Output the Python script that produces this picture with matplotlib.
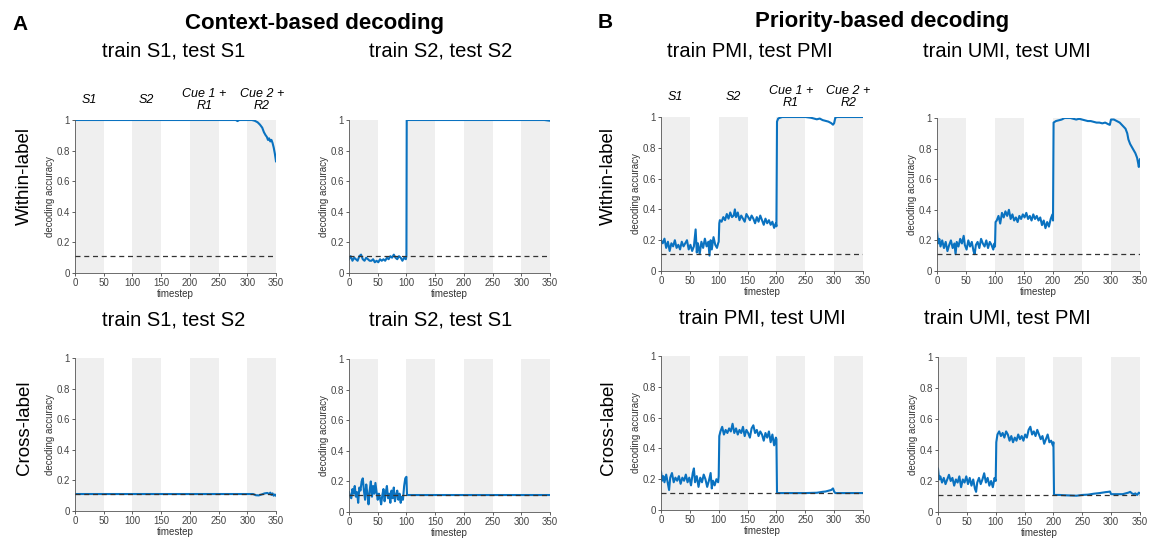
import matplotlib
matplotlib.use('Agg')
import matplotlib.pyplot as plt

plt.rcParams['font.family'] = ['Liberation Sans', 'DejaVu Sans']

# chance level (1/9)
chance = 0.111

# epoch bands and labels
bands = [(0, 50), (100, 150), (200, 250), (300, 350)]
epoch_x = [25, 125, 225, 325]
epoch_labels = ['S1', 'S2', 'Cue 1 +\nR1', 'Cue 2 +\nR2']

# --- A: context-based decoding ---
t_s1s1 = [0, 280, 283, 286, 308, 313, 318, 322, 326, 329, 332, 334, 336, 338, 340, 342, 344, 346, 348, 350]
acc_s1s1 = [1, 1, 0.993, 1, 1, 0.995, 0.985, 0.97, 0.95, 0.92, 0.90, 0.89, 0.87, 0.88, 0.86, 0.87, 0.85, 0.82, 0.78, 0.73]

t_s2s2 = [0, 3, 6, 9, 12, 15, 18, 21, 24, 27, 30, 33, 36, 39, 42, 45, 48, 51, 54, 57,
          60, 63, 66, 69, 72, 75, 78, 81, 84, 87, 90, 93, 96, 99, 100, 100.5, 340, 350]
acc_s2s2 = [0.09, 0.11, 0.08, 0.10, 0.09, 0.08, 0.11, 0.12, 0.09, 0.08, 0.10, 0.09, 0.08, 0.08, 0.09, 0.07, 0.08, 0.07, 0.09, 0.08,
            0.09, 0.08, 0.10, 0.09, 0.11, 0.10, 0.12, 0.10, 0.09, 0.11, 0.10, 0.08, 0.10, 0.09, 0.11, 1.0, 1.0, 0.995]

t_s1s2 = [0, 310, 315, 320, 325, 330, 335, 338, 340, 342, 344, 346, 348, 350]
acc_s1s2 = [0.111, 0.111, 0.103, 0.102, 0.108, 0.115, 0.118, 0.11, 0.12, 0.105, 0.115, 0.10, 0.108, 0.10]

t_s2s1 = [0, 2, 4, 6, 8, 10, 12, 14, 16, 18, 20, 22, 24, 26, 28, 30, 32, 34, 36, 38,
          40, 42, 44, 46, 48, 50, 52, 54, 56, 58, 60, 62, 64, 66, 68, 70, 72, 74, 76, 78,
          80, 82, 84, 86, 88, 90, 92, 94, 96, 98, 100, 101, 350]
acc_s2s1 = [0.13, 0.10, 0.09, 0.15, 0.12, 0.17, 0.10, 0.13, 0.06, 0.16, 0.14, 0.20, 0.22, 0.14, 0.08, 0.18, 0.12, 0.05, 0.14, 0.20,
            0.10, 0.17, 0.12, 0.19, 0.13, 0.08, 0.12, 0.09, 0.05, 0.11, 0.15, 0.07, 0.13, 0.17, 0.09, 0.12, 0.06, 0.14, 0.09, 0.16,
            0.07, 0.11, 0.14, 0.08, 0.12, 0.06, 0.10, 0.08, 0.17, 0.22, 0.23, 0.111, 0.111]

# --- B: priority-based decoding ---
t_pmipmi = [0, 3, 6, 9, 12, 15, 18, 21, 24, 27, 30, 33, 36, 39, 42, 45, 48, 51, 54, 57,
            60, 62, 64, 67, 70, 73, 76, 79, 82, 84, 86, 88, 91, 94, 97, 99, 100, 101,
            102, 105, 108, 111, 114, 117, 120, 123, 126, 128, 130, 133, 136, 139, 142, 145, 148,
            151, 154, 157, 160, 163, 166, 169, 172, 175, 178, 181, 184, 187, 190, 193, 196, 199, 200,
            201, 203, 206, 210, 250, 260, 265, 270, 275, 280, 285, 290, 295, 298, 300, 302, 305, 350]
acc_pmipmi = [0.20, 0.18, 0.21, 0.15, 0.19, 0.13, 0.18, 0.16, 0.20, 0.15, 0.17, 0.14, 0.19, 0.16, 0.18, 0.20, 0.14, 0.17, 0.13, 0.16,
              0.27, 0.12, 0.18, 0.11, 0.19, 0.15, 0.21, 0.16, 0.19, 0.10, 0.20, 0.14, 0.22, 0.17, 0.15, 0.18, 0.19, 0.31,
              0.33, 0.32, 0.35, 0.33, 0.37, 0.34, 0.38, 0.35, 0.36, 0.40, 0.35, 0.38, 0.33, 0.36, 0.34, 0.32, 0.37,
              0.35, 0.33, 0.36, 0.34, 0.31, 0.35, 0.32, 0.36, 0.33, 0.30, 0.34, 0.31, 0.33, 0.30, 0.32, 0.28, 0.31, 0.29,
              0.97, 0.99, 0.995, 1.0, 1.0, 0.995, 0.99, 0.985, 0.99, 0.98, 0.975, 0.97, 0.96, 0.95, 0.96, 0.995, 1.0, 1.0]

t_umiumi = [0, 2, 4, 6, 9, 12, 15, 18, 21, 24, 27, 30, 32, 34, 37, 40, 43, 46, 48, 51,
            54, 57, 60, 63, 65, 67, 70, 73, 76, 79, 82, 85, 88, 91, 94, 97, 99, 100, 101,
            103, 106, 109, 112, 115, 118, 121, 124, 127, 130, 133, 136, 139, 142, 145, 148, 151, 154,
            157, 160, 163, 166, 169, 172, 175, 178, 181, 184, 187, 190, 193, 196, 199, 200,
            201, 205, 210, 215, 220, 230, 240, 245, 250, 255, 260, 265, 270, 275, 280, 285, 290, 295, 298,
            300, 305, 310, 315, 320, 325, 328, 330, 333, 336, 339, 342, 345, 347, 348, 349, 350]
acc_umiumi = [0.26, 0.18, 0.21, 0.16, 0.20, 0.15, 0.19, 0.13, 0.17, 0.20, 0.15, 0.18, 0.11, 0.19, 0.16, 0.21, 0.18, 0.23, 0.17, 0.14,
              0.20, 0.16, 0.19, 0.13, 0.11, 0.17, 0.19, 0.15, 0.21, 0.18, 0.16, 0.20, 0.15, 0.19, 0.17, 0.14, 0.18, 0.16, 0.32,
              0.33, 0.36, 0.31, 0.38, 0.35, 0.39, 0.36, 0.40, 0.34, 0.37, 0.33, 0.35, 0.32, 0.36, 0.34, 0.37, 0.35, 0.38,
              0.34, 0.36, 0.33, 0.37, 0.34, 0.36, 0.33, 0.35, 0.30, 0.33, 0.28, 0.32, 0.29, 0.34, 0.37, 0.33,
              0.97, 0.98, 0.985, 0.99, 1.0, 1.0, 0.99, 0.995, 0.99, 0.985, 0.98, 0.98, 0.975, 0.97, 0.97, 0.965, 0.97, 0.96, 0.955,
              0.99, 0.99, 0.98, 0.97, 0.95, 0.93, 0.90, 0.86, 0.83, 0.81, 0.79, 0.77, 0.74, 0.70, 0.68, 0.72, 0.73]

t_pmiumi = [0, 2, 4, 6, 9, 12, 14, 16, 19, 22, 25, 28, 31, 34, 37, 40, 43, 46, 49, 52,
            55, 57, 59, 62, 65, 68, 71, 74, 77, 80, 83, 86, 88, 90, 93, 96, 99, 100, 101,
            103, 106, 109, 112, 115, 118, 121, 124, 127, 130, 133, 136, 139, 142, 145, 148, 151, 154,
            157, 160, 163, 166, 169, 172, 175, 178, 181, 184, 187, 190, 193, 196, 199, 200,
            201, 250, 270, 280, 285, 290, 295, 298, 300, 302, 350]
acc_pmiumi = [0.25, 0.19, 0.22, 0.18, 0.23, 0.17, 0.13, 0.21, 0.24, 0.18, 0.21, 0.19, 0.22, 0.17, 0.21, 0.19, 0.23, 0.18, 0.21, 0.16,
              0.24, 0.27, 0.18, 0.22, 0.15, 0.21, 0.18, 0.23, 0.20, 0.15, 0.19, 0.24, 0.14, 0.19, 0.16, 0.20, 0.18, 0.22, 0.48,
              0.51, 0.54, 0.49, 0.52, 0.50, 0.53, 0.51, 0.56, 0.50, 0.53, 0.49, 0.52, 0.50, 0.54, 0.48, 0.52, 0.50, 0.47,
              0.53, 0.55, 0.50, 0.52, 0.48, 0.51, 0.49, 0.45, 0.50, 0.47, 0.51, 0.44, 0.49, 0.42, 0.47, 0.46,
              0.11, 0.11, 0.112, 0.118, 0.12, 0.125, 0.13, 0.14, 0.12, 0.11, 0.11]

t_umipmi = [0, 2, 4, 7, 10, 13, 16, 19, 22, 25, 28, 31, 34, 37, 40, 43, 46, 49, 52, 55,
            58, 61, 64, 66, 68, 71, 74, 77, 80, 83, 86, 89, 92, 95, 98, 100, 101,
            103, 106, 109, 112, 115, 118, 121, 124, 127, 130, 133, 136, 139, 142, 145, 148, 151, 154,
            157, 160, 163, 166, 169, 172, 175, 178, 181, 184, 187, 190, 193, 196, 199, 200,
            201, 210, 220, 240, 250, 260, 265, 270, 275, 280, 285, 290, 295, 298, 300, 310, 320, 325,
            330, 333, 336, 339, 342, 345, 348, 350]
acc_umipmi = [0.28, 0.21, 0.23, 0.19, 0.22, 0.18, 0.21, 0.24, 0.20, 0.22, 0.17, 0.21, 0.19, 0.23, 0.16, 0.21, 0.19, 0.23, 0.18, 0.22,
              0.17, 0.21, 0.15, 0.13, 0.19, 0.22, 0.18, 0.21, 0.25, 0.19, 0.22, 0.17, 0.20, 0.16, 0.22, 0.20, 0.45,
              0.50, 0.52, 0.49, 0.51, 0.48, 0.52, 0.50, 0.46, 0.49, 0.45, 0.48, 0.46, 0.50, 0.47, 0.49, 0.46, 0.50, 0.48,
              0.53, 0.55, 0.50, 0.52, 0.49, 0.53, 0.50, 0.47, 0.49, 0.44, 0.47, 0.50, 0.45, 0.46, 0.43, 0.45,
              0.11, 0.11, 0.108, 0.105, 0.11, 0.112, 0.115, 0.118, 0.12, 0.122, 0.125, 0.128, 0.13, 0.132, 0.115, 0.115, 0.115, 0.12,
              0.125, 0.13, 0.12, 0.115, 0.12, 0.11, 0.125, 0.12]

line_color = '#0a72c0'
W, H = 1150, 538
fig = plt.figure(figsize=(W / 100, H / 100), dpi=100)


def add_panel(left, top, right, bottom, t, acc, epochs=False):
    ax = fig.add_axes([left / W, 1 - bottom / H, (right - left) / W, (bottom - top) / H])
    for a, b in bands:
        ax.axvspan(a, b, color='#efefef', lw=0, zorder=0)
    ax.plot(t, acc, color=line_color, lw=1.5, zorder=2)
    ax.axhline(chance, color='#333333', lw=0.9, ls=(0, (4, 3)), zorder=3)
    ax.set_xlim(0, 350)
    ax.set_ylim(0, 1)
    ax.set_xticks([0, 50, 100, 150, 200, 250, 300, 350])
    ax.set_yticks([0, 0.2, 0.4, 0.6, 0.8, 1])
    ax.set_yticklabels(['0', '0.2', '0.4', '0.6', '0.8', '1'])
    ax.tick_params(labelsize=7, colors='#444444', length=2, width=0.6, pad=1.5)
    for s in ['top', 'right']:
        ax.spines[s].set_visible(False)
    for s in ['left', 'bottom']:
        ax.spines[s].set_color('#555555')
        ax.spines[s].set_linewidth(0.6)
    ax.set_xlabel('timestep', fontsize=7, color='#333333', labelpad=1)
    ax.set_ylabel('decoding accuracy', fontsize=7, color='#333333', labelpad=1)
    if epochs:
        for x, lab in zip(epoch_x, epoch_labels):
            ax.text(x, 1.13, lab, transform=ax.get_xaxis_transform(), ha='center', va='center',
                    fontsize=9, style='italic', linespacing=1.0)
    return ax


add_panel(75, 120, 276, 273, t_s1s1, acc_s1s1, epochs=True)
add_panel(349, 120, 550, 273, t_s2s2, acc_s2s2)
add_panel(75, 358, 276, 511, t_s1s2, acc_s1s2)
add_panel(349, 359, 550, 512, t_s2s1, acc_s2s1)
add_panel(661, 117, 863, 271, t_pmipmi, acc_pmipmi, epochs=True)
add_panel(937, 118, 1140, 271, t_umiumi, acc_umiumi)
add_panel(661, 356, 863, 510, t_pmiumi, acc_pmiumi)
add_panel(938, 357, 1140, 512, t_umipmi, acc_umipmi)


def ftext(x, y, s, **kw):
    fig.text(x / W, 1 - y / H, s, ha='center', va='center', **kw)


ftext(20, 25, 'A', fontsize=15, fontweight='bold')
ftext(605, 22, 'B', fontsize=15, fontweight='bold')
ftext(315, 24, 'Context-based decoding', fontsize=16, fontweight='bold')
ftext(882, 22, 'Priority-based decoding', fontsize=16, fontweight='bold')

ftext(174, 51, 'train S1, test S1', fontsize=14.5)
ftext(441, 51, 'train S2, test S2', fontsize=14.5)
ftext(174, 320, 'train S1, test S2', fontsize=14.5)
ftext(441, 320, 'train S2, test S1', fontsize=14.5)
ftext(750, 51, 'train PMI, test PMI', fontsize=14.5)
ftext(1007, 51, 'train UMI, test UMI', fontsize=14.5)
ftext(762, 318, 'train PMI, test UMI', fontsize=14.5)
ftext(1007, 318, 'train UMI, test PMI', fontsize=14.5)

ftext(24, 176, 'Within-label', fontsize=13.5, rotation=90)
ftext(24, 428, 'Cross-label', fontsize=13.5, rotation=90)
ftext(608, 176, 'Within-label', fontsize=13.5, rotation=90)
ftext(608, 428, 'Cross-label', fontsize=13.5, rotation=90)

fig.savefig('out.png', dpi=100, facecolor='white')
